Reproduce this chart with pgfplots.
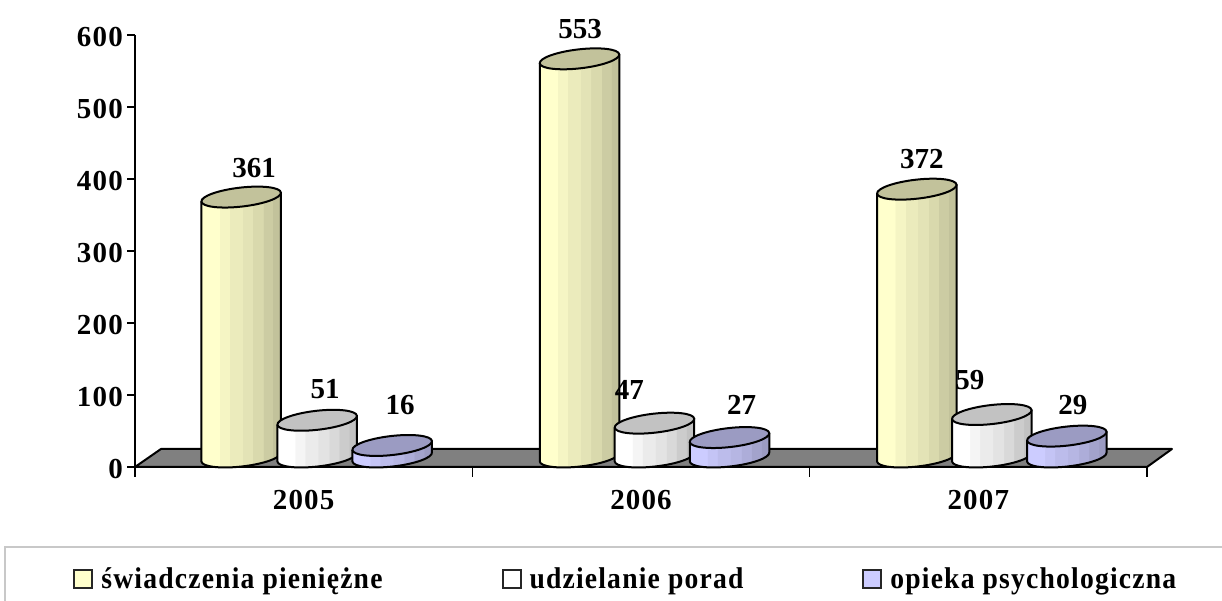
\documentclass[border=0pt]{standalone}
\usepackage{fontspec}
\usepackage{pgfplots}
\usepackage{pgfplotstable}
\pgfplotsset{compat=1.18}
\setmainfont{Liberation Serif}
\newfontfamily\tickfam[LetterSpace=4]{Liberation Serif}
\newfontfamily\legfam[FakeStretch=0.92,LetterSpace=4]{Liberation Serif}
\newcommand\tickfont{\tickfam\bfseries\fontsize{29}{31}\selectfont}
\newcommand\valfont{\bfseries\fontsize{29}{31}\selectfont}
\newcommand\legfont{\legfam\bfseries\fontsize{30}{32}\selectfont}

\definecolor{cylY}{HTML}{FFFFCC}
\definecolor{cylW}{HTML}{FFFFFF}
\definecolor{cylB}{HTML}{CCCCFF}
\definecolor{floorc}{HTML}{808080}
\definecolor{framec}{HTML}{C8C8C8}

\newcommand\defshade[2]{%
\pgfdeclarehorizontalshading{#1}{100bp}{%
 color(0bp)=(#2); color(36.25bp)=(#2);
 color(36.25bp)=(#2!96!black); color(42.5bp)=(#2!96!black);
 color(42.5bp)=(#2!92!black); color(50.5bp)=(#2!92!black);
 color(50.5bp)=(#2!89!black); color(57bp)=(#2!89!black);
 color(57bp)=(#2!85!black); color(63.5bp)=(#2!85!black);
 color(63.5bp)=(#2!80!black); color(69.5bp)=(#2!80!black);
 color(69.5bp)=(#2!76!black); color(100bp)=(#2!76!black)}}
\defshade{shY}{cylY}
\defshade{shW}{cylW}
\defshade{shB}{cylB}

% whole cylinder as a plot mark: its height comes from the point's y value
\newcommand\declcyl[3]{\pgfdeclareplotmark{#1}{%
 \pgfmathsetlengthmacro\cylBl{10-4.53-0.72*\vy}%
 \shade[shading=#2] (-39.75pt,\cylBl)
   .. controls +(0.6pt,-5.21pt) and +(-21.95pt,-2.5pt) .. ++(40.83pt,-4.91pt)
   .. controls +(21.95pt,2.5pt) and +(0.6pt,-5.21pt) .. ++(38.67pt,13.97pt)
   -- (39.75pt,14.53pt) -- (-39.75pt,5.47pt) -- cycle;
 \draw[black,line width=2pt,line join=round] (-39.75pt,5.47pt) -- (-39.75pt,\cylBl)
   .. controls +(0.6pt,-5.21pt) and +(-21.95pt,-2.5pt) .. ++(40.83pt,-4.91pt)
   .. controls +(21.95pt,2.5pt) and +(0.6pt,-5.21pt) .. ++(38.67pt,13.97pt)
   -- (39.75pt,14.53pt);
 \draw[black,line width=2pt,fill=#3!76!black] (0pt,10pt) ellipse[x radius=40pt,y radius=9.5pt,rotate=6.5];
}}
\declcyl{cylYm}{shY}{cylY}
\declcyl{cylWm}{shW}{cylW}
\declcyl{cylBm}{shB}{cylB}

\pgfplotstableread{
x y dx dy
-0.1853 361 13 39
0.8177 553 0.5 40
1.8177 372 5 40
}\tabY
\pgfplotstableread{
x y dx dy
0.04 51 8 41
1.04 47 -25 43
2.04 59 -22 44.5
}\tabW
\pgfplotstableread{
x y dx dy
0.2624 16 8 50
1.2624 27 12 43
2.2624 29 6 41
}\tabB

\pgfplotsset{
 cyl/.style={
  only marks, scatter, scatter src=y,
  visualization depends on={\thisrow{y}\as\vy},
  visualization depends on={\thisrow{dx}\as\ldx},
  visualization depends on={\thisrow{dy}\as\ldy},
  nodes near coords,
  every node near coord/.append style={anchor=center,text=black,font=\valfont,
     inner sep=0pt,xshift=\ldx pt,yshift=\ldy pt},
 },
 legsq/.style={legend image code/.code={%
   \draw[fill=#1,draw=black!85,line width=2pt] (1pt,-8.5pt) rectangle (19pt,9.5pt);}},
}

\begin{document}
\begin{tikzpicture}[x=1pt,y=1pt]
\useasboundingbox (0,0) rectangle (1222pt,601pt);
\draw[framec,line width=1.8pt] (1240pt,54pt) -- (5pt,54pt) -- (5pt,-10pt);
\begin{axis}[
 at={(135pt,134pt)},anchor=south west,
 scale only axis,width=1012pt,height=432pt,
 clip=false,
 xmin=-0.5,xmax=2.5,ymin=0,ymax=600,
 axis x line=bottom,axis y line=left,
 axis line style={-,line width=2pt,black},
 xtick={0,1,2},xticklabels={2005,2006,2007},
 minor xtick={-0.5,0.5,1.5,2.5},
 ytick={0,100,200,300,400,500,600},
 tick align=outside,
 major tick length=8pt,minor tick length=10pt,
 major x tick style={draw=none},
 minor x tick style={black,line width=1.4pt},
 major y tick style={black,line width=1.4pt},
 /pgf/number format/assume math mode=true,
 ticklabel style={font=\tickfont,text=black},
 yticklabel style={inner xsep=0pt,xshift=-4pt,yshift=-2pt},
 xticklabel style={yshift=-12pt},
 legend style={at={(-0.0611,-0.2595)},anchor=west,draw=none,fill=none,inner sep=0pt,
   font=\legfont,
   /tikz/every odd column/.append style={column sep=6pt},
   /tikz/every even column/.append style={column sep=117pt}},
 legend columns=3,legend cell align=left,
]
\addplot[forget plot,fill=floorc,draw=black,line width=2pt,line join=round]
  coordinates {(-0.5,0) (2.5,0) (2.574,25) (-0.423,25)} -- cycle;
\addplot[cyl,mark=cylYm,legsq=cylY] table[x=x,y=y] {\tabY};
\addlegendentry{świadczenia pieniężne}
\addplot[cyl,mark=cylWm,legsq=cylW] table[x=x,y=y] {\tabW};
\addlegendentry{udzielanie porad}
\addplot[cyl,mark=cylBm,legsq=cylB] table[x=x,y=y] {\tabB};
\addlegendentry{opieka psychologiczna}
\end{axis}
\end{tikzpicture}
\end{document}
